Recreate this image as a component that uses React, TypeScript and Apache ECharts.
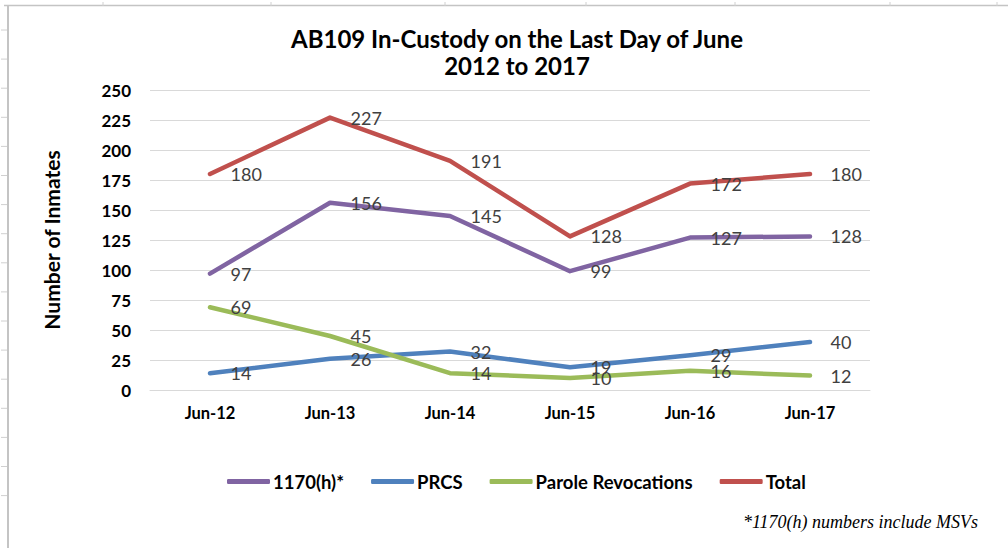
import React, { useEffect, useRef } from "react";
import * as echarts from "echarts";

const categories = ["Jun-12", "Jun-13", "Jun-14", "Jun-15", "Jun-16", "Jun-17"];
const seriesNames = ["1170(h)*", "PRCS", "Parole Revocations", "Total"];
const h1170 = [97, 156, 145, 99, 127, 128];
const prcs = [14, 26, 32, 19, 29, 40];
const parole = [69, 45, 14, 10, 16, 12];
const total = [180, 227, 191, 128, 172, 180];
const colors = ["#8064A2", "#4F81BD", "#9BBB59", "#C0504D"];
const titleLines = ["AB109 In-Custody on the Last Day of June", "2012 to 2017"];
const yAxisName = "Number of Inmates";
const footnote = "*1170(h) numbers include MSVs";

const FONT = "Lato, 'Noto Sans', sans-serif";

export default function App() {
  const ref = useRef<HTMLDivElement>(null);
  useEffect(() => {
    if (!ref.current) return;
    const chart = echarts.init(ref.current, null, { renderer: "svg" });
    const dataSets = [h1170, prcs, parole, total];
    const leftTicks: any[] = [];
    for (let i = 0; i < 17; i++) {
      const y = 30 + i * 29.1;
      leftTicks.push({
        type: "line",
        shape: { x1: 1, y1: y, x2: 7, y2: y },
        style: { stroke: "#d0d0d0", lineWidth: 1 },
        silent: true,
      });
    }
    const topTickXs = [103, 271, 445, 586, 735, 890, 997];
    const topTicks = topTickXs.map((x) => ({
      type: "line",
      shape: { x1: x, y1: 2, x2: x, y2: 6 },
      style: { stroke: "#d0d0d0", lineWidth: 1 },
      silent: true,
    }));
    chart.setOption({
      animation: false,
      backgroundColor: "#ffffff",
      color: colors,
      title: {
        text: titleLines.join("\n"),
        left: 512,
        textAlign: "center",
        top: 20,
        textStyle: {
          fontFamily: FONT,
          fontWeight: "bold",
          fontSize: 24,
          color: "#000000",
          lineHeight: 27,
        },
      },
      legend: {
        data: seriesNames.map((name, i) => ({
          name,
          itemStyle: { color: colors[i], opacity: 1 },
        })),
        top: 467,
        left: 222,
        itemWidth: 43,
        itemHeight: 5,
        itemGap: 27,
        icon: "roundRect",
        textStyle: {
          fontFamily: FONT,
          fontWeight: "bold",
          fontSize: 18.5,
          color: "#000000",
          padding: [0, 0, 0, -2],
        },
      },
      grid: { left: 150, right: 138, top: 90, bottom: 158, containLabel: false },
      xAxis: {
        type: "category",
        data: categories,
        boundaryGap: true,
        axisLine: { show: true, lineStyle: { color: "#d9d9d9", width: 1 } },
        axisTick: { show: false },
        axisLabel: {
          fontFamily: FONT,
          fontWeight: "bold",
          fontSize: 16.5,
          color: "#000000",
          margin: 14,
        },
      },
      yAxis: {
        type: "value",
        min: 0,
        max: 250,
        interval: 25,
        name: yAxisName,
        nameLocation: "middle",
        nameGap: 88,
        nameTextStyle: {
          fontFamily: FONT,
          fontWeight: "bold",
          fontSize: 21,
          color: "#000000",
        },
        axisLine: { show: false },
        axisTick: { show: false },
        axisLabel: {
          fontFamily: FONT,
          fontWeight: "bold",
          fontSize: 17,
          color: "#000000",
          margin: 19,
        },
        splitLine: { lineStyle: { color: "#d9d9d9", width: 1 } },
      },
      series: seriesNames.map((name, i) => ({
        name,
        type: "line",
        data: dataSets[i],
        symbol: "circle",
        symbolSize: 1,
        showSymbol: true,
        itemStyle: { color: colors[i], opacity: 0 },
        lineStyle: { color: colors[i], width: 4.5, cap: "round", join: "round" },
        label: {
          show: true,
          position: "right",
          distance: 20,
          fontFamily: FONT,
          fontSize: 18,
          color: "#404040",
          opacity: 1,
        },
        z: i === 3 ? 5 : 2 + i,
      })),
      graphic: [
        {
          type: "line",
          shape: { x1: 8, y1: 6, x2: 8, y2: 548 },
          style: { stroke: "#c4c4c4", lineWidth: 2 },
          silent: true,
        },
        {
          type: "line",
          shape: { x1: 4, y1: 5.5, x2: 1008, y2: 5.5 },
          style: { stroke: "#c4c4c4", lineWidth: 1.5 },
          silent: true,
        },
        ...leftTicks,
        ...topTicks,
        {
          type: "text",
          right: 30,
          top: 513,
          style: {
            text: footnote,
            fontFamily: "'Liberation Serif', 'DejaVu Serif', serif",
            fontStyle: "italic",
            fontSize: 18,
            fill: "#000000",
          },
        },
      ],
    });
    return () => chart.dispose();
  }, []);
  return (
    <div
      ref={ref}
      style={{ position: "fixed", left: 0, top: 0, width: 1008, height: 548, background: "#fff" }}
    />
  );
}
